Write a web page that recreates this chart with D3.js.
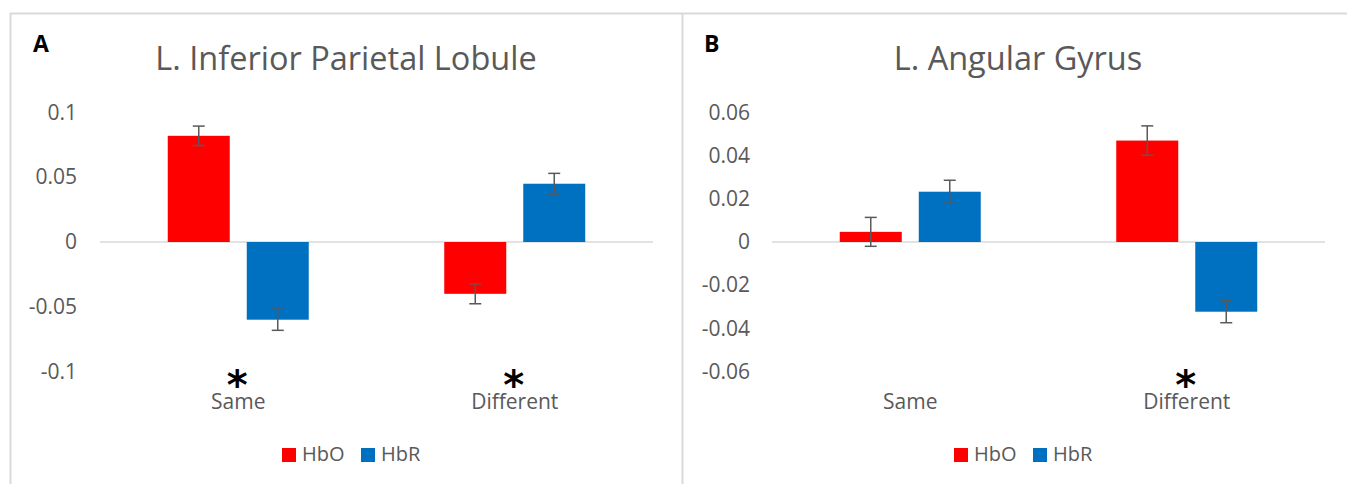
<!DOCTYPE html>
<html>
<head>
<meta charset="utf-8">
<script src="https://cdn.jsdelivr.net/npm/d3@7"></script>
<style>
  html, body { margin: 0; padding: 0; background: #fff; }
  svg { display: block; }
  text { font-family: "Open Sans", "Noto Sans", sans-serif; }
</style>
</head>
<body>
<svg id="chart" width="1347" height="484"></svg>
<script>
// ---------- data ----------
const categories = ["Same", "Different"];
const seriesNames = ["HbO", "HbR"];

// Panel A: L. Inferior Parietal Lobule
const iplHbO    = [0.082, -0.040];
const iplHbOErr = [0.0075, 0.0077];
const iplHbR    = [-0.060, 0.045];
const iplHbRErr = [0.0082, 0.0080];
const iplTicks  = [-0.1, -0.05, 0, 0.05, 0.1];
const iplTickLabels = ["-0.1", "-0.05", "0", "0.05", "0.1"];
const iplStars  = ["Same", "Different"];

// Panel B: L. Angular Gyrus
const agHbO    = [0.0047, 0.047];
const agHbOErr = [0.0067, 0.0068];
const agHbR    = [0.0233, -0.0323];
const agHbRErr = [0.0053, 0.0051];
const agTicks  = [-0.06, -0.04, -0.02, 0, 0.02, 0.04, 0.06];
const agTickLabels = ["-0.06", "-0.04", "-0.02", "0", "0.02", "0.04", "0.06"];
const agStars  = ["Different"];

// ---------- style ----------
const colors = { HbO: "#FF0000", HbR: "#0070C0" };
const textGrey = "#595959";
const borderGrey = "#d9d9d9";

const svg = d3.select("#chart");

// outer borders
svg.append("line").attr("x1", 10.5).attr("x2", 10.5).attr("y1", 13).attr("y2", 484)
  .attr("stroke", borderGrey).attr("stroke-width", 2);
svg.append("line").attr("x1", 682.5).attr("x2", 682.5).attr("y1", 13).attr("y2", 484)
  .attr("stroke", borderGrey).attr("stroke-width", 2);
svg.append("line").attr("x1", 10).attr("x2", 1347).attr("y1", 13.5).attr("y2", 13.5)
  .attr("stroke", borderGrey).attr("stroke-width", 2);

function drawPanel(cfg) {
  const g = svg.append("g");
  const y = d3.scaleLinear().domain(cfg.domain).range([371.5, 112.5]);
  const x0 = d3.scaleBand().domain(categories).range(cfg.xRange).paddingInner(0).paddingOuter(0);
  const bw = x0.bandwidth();
  const groupW = bw * 141 / 276.5;
  const x1 = d3.scaleBand().domain(seriesNames).range([-groupW / 2, groupW / 2])
    .paddingInner(17 / 79).paddingOuter(0);

  // panel letter
  g.append("text").attr("x", cfg.letterX).attr("y", 52)
    .attr("font-size", 23).attr("font-weight", "bold").attr("fill", "#000")
    .text(cfg.letter);

  // title
  g.append("text").attr("x", cfg.titleX).attr("y", 70)
    .attr("text-anchor", "middle").attr("font-size", 32.5).attr("fill", textGrey)
    .text(cfg.title);

  // y axis labels (no line)
  const yAxis = d3.axisLeft(y).tickValues(cfg.ticks)
    .tickFormat((d, i) => cfg.tickLabels[i]).tickSize(0).tickPadding(0);
  const ax = g.append("g").attr("transform", `translate(${cfg.labelRight},0)`).call(yAxis);
  ax.select(".domain").remove();
  ax.selectAll("text").attr("font-size", 21).attr("fill", textGrey)
    .attr("font-family", "\"Open Sans\", sans-serif");

  // zero line
  g.append("line").attr("x1", cfg.xRange[0]).attr("x2", cfg.xRange[1])
    .attr("y1", y(0)).attr("y2", y(0)).attr("stroke", borderGrey).attr("stroke-width", 1.5);

  // bars
  const rows = [];
  categories.forEach((c, i) => {
    seriesNames.forEach(s => {
      rows.push({ cat: c, s: s, v: cfg.values[s][i], e: cfg.errors[s][i] });
    });
  });

  const cx = d => x0(d.cat) + bw / 2 + x1(d.s);
  g.selectAll("rect.bar").data(rows).enter().append("rect")
    .attr("class", "bar")
    .attr("x", d => cx(d))
    .attr("width", x1.bandwidth())
    .attr("y", d => Math.min(y(d.v), y(0)))
    .attr("height", d => Math.abs(y(d.v) - y(0)))
    .attr("fill", d => colors[d.s]);

  // error bars
  const capW = 6;
  const eg = g.selectAll("g.err").data(rows).enter().append("g").attr("class", "err")
    .attr("stroke", textGrey).attr("stroke-width", 1.5);
  eg.append("line")
    .attr("x1", d => cx(d) + x1.bandwidth() / 2).attr("x2", d => cx(d) + x1.bandwidth() / 2)
    .attr("y1", d => y(d.v + d.e)).attr("y2", d => y(d.v - d.e));
  eg.append("line")
    .attr("x1", d => cx(d) + x1.bandwidth() / 2 - capW).attr("x2", d => cx(d) + x1.bandwidth() / 2 + capW)
    .attr("y1", d => y(d.v + d.e)).attr("y2", d => y(d.v + d.e));
  eg.append("line")
    .attr("x1", d => cx(d) + x1.bandwidth() / 2 - capW).attr("x2", d => cx(d) + x1.bandwidth() / 2 + capW)
    .attr("y1", d => y(d.v - d.e)).attr("y2", d => y(d.v - d.e));

  // category labels, with the significance star as part of the same label
  const cat = g.selectAll("text.cat").data(categories).enter().append("text")
    .attr("class", "cat")
    .attr("text-anchor", "middle").attr("fill", textGrey);
  cat.filter(d => cfg.stars.includes(d)).append("tspan")
    .attr("x", d => x0(d) + bw / 2 - 1).attr("y", 399)
    .attr("font-size", 40).attr("font-weight", "bold").attr("fill", "#000")
    .attr("font-family", "\"DejaVu Sans\", sans-serif")
    .text("*");
  cat.append("tspan")
    .attr("x", d => x0(d) + bw / 2).attr("y", 409)
    .attr("font-size", 21)
    .text(d => d);

  // legend
  const lg = g.append("g").attr("transform", `translate(${cfg.legendX},0)`);
  const items = [{ s: "HbO", dx: 0 }, { s: "HbR", dx: 79 }];
  items.forEach(it => {
    lg.append("rect").attr("x", it.dx).attr("y", 448).attr("width", 14).attr("height", 14)
      .attr("fill", colors[it.s]);
    lg.append("text").attr("x", it.dx + 20).attr("y", 461)
      .attr("font-size", 20).attr("fill", textGrey).text(it.s);
  });
}

drawPanel({
  letter: "A", letterX: 33,
  title: "L. Inferior Parietal Lobule", titleX: 346,
  domain: [-0.1, 0.1], ticks: iplTicks, tickLabels: iplTickLabels,
  labelRight: 77, xRange: [100, 653],
  values: { HbO: iplHbO, HbR: iplHbR }, errors: { HbO: iplHbOErr, HbR: iplHbRErr },
  stars: iplStars, legendX: 282
});

drawPanel({
  letter: "B", letterX: 704,
  title: "L. Angular Gyrus", titleX: 1018,
  domain: [-0.06, 0.06], ticks: agTicks, tickLabels: agTickLabels,
  labelRight: 750, xRange: [772, 1325],
  values: { HbO: agHbO, HbR: agHbR }, errors: { HbO: agHbOErr, HbR: agHbRErr },
  stars: agStars, legendX: 954
});
</script>
</body>
</html>
